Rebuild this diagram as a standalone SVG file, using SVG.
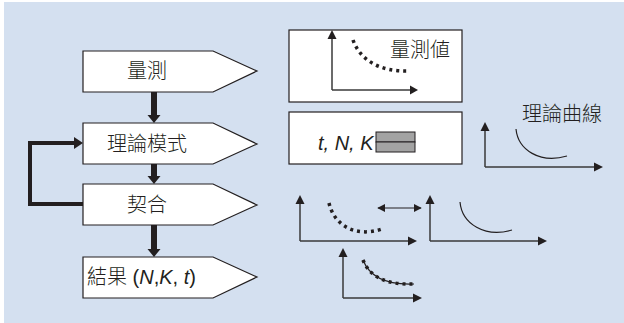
<svg xmlns="http://www.w3.org/2000/svg" width="624" height="323" viewBox="0 0 624 323">
<defs>
<marker id="ah" viewBox="0 0 10 10" refX="9" refY="5" markerWidth="8" markerHeight="8" markerUnits="userSpaceOnUse" orient="auto-start-reverse">
<path d="M0,0 L10,5 L0,10 z" fill="#231f20"/>
</marker>
<style>
.box{fill:#fff;stroke:#231f20;stroke-width:1.2}
.cjk{font-family:"Liberation Sans","Noto Sans CJK TC",sans-serif;font-size:20px;font-weight:300;fill:#231f20}
.it{font-style:italic}
.ax{fill:none;stroke:#3a3a3a;stroke-width:1.5}
.thick{fill:none;stroke:#231f20;stroke-width:6}
.dots{fill:none;stroke:#231f20;stroke-width:3.5;stroke-dasharray:3 4}
.thin{fill:none;stroke:#231f20;stroke-width:1.2}
</style>
</defs>
<rect x="4" y="2" width="620" height="321" fill="#d4e0f0"/>

<g id="connectors">
<line class="thick" x1="154" y1="92" x2="154" y2="115"/>
<polygon points="147.5,115 160.5,115 154,123" fill="#231f20"/>
<line class="thick" x1="154" y1="164" x2="154" y2="176"/>
<polygon points="147.5,176 160.5,176 154,184" fill="#231f20"/>
<line class="thick" x1="154" y1="225" x2="154" y2="249"/>
<polygon points="147.5,249 160.5,249 154,257" fill="#231f20"/>
<polyline points="83,204 30,204 30,143 74,143" fill="none" stroke="#231f20" stroke-width="4"/>
<polygon points="74,137 83,143 74,149" fill="#231f20"/>
<line class="thin" x1="378" y1="208" x2="421" y2="208" marker-start="url(#ah)" marker-end="url(#ah)"/>
</g>

<g id="measure">
<polygon class="box" points="83,51 213,51 257,71 213,92 83,92"/>
<text class="cjk" x="147" y="78" text-anchor="middle">量測</text>
</g>
<g id="model">
<polygon class="box" points="83,123 213,123 257,144 213,164 83,164"/>
<text class="cjk" x="147" y="151" text-anchor="middle">理論模式</text>
</g>
<g id="fit">
<polygon class="box" points="83,184 213,184 257,205 213,225 83,225"/>
<text class="cjk" x="147" y="212" text-anchor="middle">契合</text>
</g>
<g id="result">
<polygon class="box" points="83,257 213,257 257,277 213,298 83,298"/>
<text class="cjk" x="87" y="284">結果 (<tspan class="it">N</tspan>,<tspan class="it">K</tspan>, <tspan class="it">t</tspan>)</text>
</g>

<g id="measured-values">
<rect class="box" x="289" y="30" width="173" height="72"/>
<line class="ax" x1="332" y1="90" x2="332" y2="38"/>
<polygon points="327.5,39 336.5,39 332,30" fill="#231f20"/>
<line class="ax" x1="332" y1="90" x2="410" y2="90"/>
<polygon points="410,85.5 410,94.5 418,90" fill="#231f20"/>
<path class="dots" d="M353,40 C360,60 380,72 409,71" stroke-width="4"/>
<text class="cjk" x="390" y="57">量測値</text>
</g>

<g id="params">
<rect class="box" x="289" y="112" width="173" height="52"/>
<text class="cjk it" x="318" y="150" font-size="19">t, N, K</text>
<rect x="376" y="132" width="39" height="10" fill="#a3a3a3" stroke="#231f20" stroke-width="1"/>
<rect x="376" y="142" width="39" height="10" fill="#a3a3a3" stroke="#231f20" stroke-width="1"/>
</g>

<g id="theory-curve">
<line class="ax" x1="485" y1="167" x2="485" y2="130"/>
<polygon points="480.5,131 489.5,131 485,122" fill="#231f20"/>
<line class="ax" x1="485" y1="167" x2="594" y2="167"/>
<polygon points="594,162.5 594,171.5 603,167" fill="#231f20"/>
<path class="thin" d="M516,129 C518,150 540,164 567,156"/>
<text class="cjk" x="522" y="121">理論曲線</text>
</g>

<g id="fit-graph-data">
<line class="ax" x1="300" y1="241" x2="300" y2="203"/>
<polygon points="295.5,204 304.5,204 300,195" fill="#231f20"/>
<line class="ax" x1="300" y1="241" x2="408" y2="241"/>
<polygon points="408,236.5 408,245.5 417,241" fill="#231f20"/>
<path class="dots" d="M329,203 C334,225 355,238 382,229"/>
</g>

<g id="fit-graph-theory">
<line class="ax" x1="430" y1="241" x2="430" y2="203"/>
<polygon points="425.5,204 434.5,204 430,195" fill="#231f20"/>
<line class="ax" x1="430" y1="241" x2="538" y2="241"/>
<polygon points="538,236.5 538,245.5 547,241" fill="#231f20"/>
<path class="thin" d="M460,202 C462,224 485,238 512,230"/>
</g>

<g id="fit-result">
<line class="ax" x1="343" y1="298" x2="343" y2="256"/>
<polygon points="338.5,257 347.5,257 343,248" fill="#231f20"/>
<line class="ax" x1="343" y1="298" x2="413" y2="298"/>
<polygon points="413,293.5 413,302.5 422,298" fill="#231f20"/>
<path class="thin" d="M363,260 C370,278 388,285 414,284"/>
<path class="dots" d="M363,260 C370,278 388,285 414,284" stroke-width="3" stroke-dasharray="2.5 3.5"/>
</g>
</svg>
